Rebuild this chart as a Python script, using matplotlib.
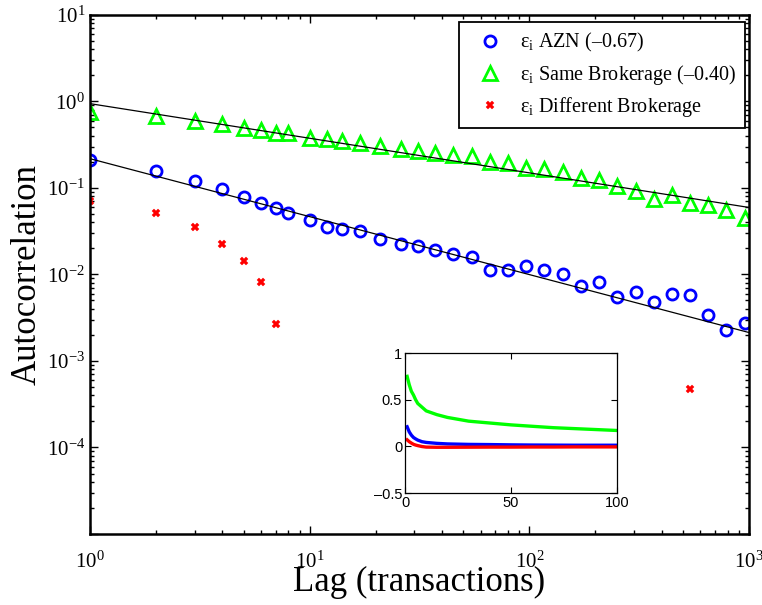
import numpy as np
import matplotlib
matplotlib.use("Agg")
import matplotlib.pyplot as plt
from matplotlib.ticker import LogLocator, NullFormatter, FuncFormatter

plt.rcParams['font.family'] = ['Liberation Serif', 'DejaVu Serif']
plt.rcParams['mathtext.fontset'] = 'custom'
plt.rcParams['mathtext.rm'] = 'Liberation Serif'
plt.rcParams['mathtext.it'] = 'Liberation Serif:italic'
plt.rcParams['mathtext.default'] = 'regular'

# ---- data ----
lags = [1, 2, 3, 4, 5, 6, 7, 8, 10, 12, 14, 17, 21, 26, 31, 37, 45, 55, 66, 80,
        97, 117, 142, 171, 207, 251, 305, 368, 446, 538, 650, 787, 955]

azn = [0.209, 0.156, 0.119, 0.0965, 0.0786, 0.0677, 0.0582, 0.0513, 0.0423, 0.0358,
       0.0336, 0.0318, 0.0255, 0.0222, 0.0212, 0.0192, 0.01725, 0.0159, 0.0114, 0.0114,
       0.01267, 0.01127, 0.01005, 0.00731, 0.00828, 0.00556, 0.00634, 0.00481, 0.0059,
       0.00586, 0.00344, 0.00227, 0.00275]

same_brok = [0.754, 0.673, 0.594, 0.554, 0.498, 0.464, 0.436, 0.431, 0.382, 0.368,
             0.349, 0.334, 0.305, 0.285, 0.269, 0.253, 0.243, 0.232, 0.1995, 0.194,
             0.170, 0.1674, 0.153, 0.130, 0.1226, 0.1045, 0.0915, 0.0753, 0.0822,
             0.0677, 0.063, 0.0552, 0.045]

nan = np.nan
diff_brok = [0.0707, 0.0514, 0.0354, 0.0223, 0.01433, 0.00828, 0.00266, nan, nan, nan,
             nan, nan, nan, nan, nan, nan, nan, nan, nan, nan,
             nan, nan, nan, nan, nan, nan, nan, nan, nan,
             0.000468, nan, nan, nan]

# power-law fits: amplitude, exponent
fit_azn = (0.218, -0.67)
fit_same = (0.943, -0.40)

# inset (linear scale, lags 1..100)
inset_lags = [1, 2, 3, 4, 5, 6, 8, 10, 15, 20, 30, 40, 50, 60, 70, 80, 90, 100]
inset_same = [0.75, 0.66, 0.59, 0.55, 0.50, 0.46, 0.42, 0.38, 0.34, 0.31, 0.27, 0.25,
              0.23, 0.215, 0.20, 0.19, 0.18, 0.17]
inset_azn = [0.21, 0.155, 0.12, 0.095, 0.08, 0.067, 0.05, 0.042, 0.032, 0.026, 0.021,
             0.019, 0.016, 0.014, 0.013, 0.012, 0.012, 0.012]
inset_diff = [0.07, 0.05, 0.035, 0.022, 0.014, 0.008, -0.002, -0.008, -0.010, -0.010,
              -0.009, -0.008, -0.008, -0.007, -0.007, -0.006, -0.006, -0.006]

labels = [r'ε$_i$ AZN (–0.67)', r'ε$_i$ Same Brokerage (–0.40)', r'ε$_i$ Different Brokerage']

BLUE = (0, 0, 1)
GREEN = (0, 1, 0)
RED = (1, 0, 0)

fig = plt.figure(figsize=(7.62, 6.05), dpi=100)
ax = fig.add_axes([0.1181, 0.1174, 0.8649, 0.8579])

x = np.array(lags, dtype=float)
ax.plot(x, azn, 'o', ls='none', mfc='none', mec=BLUE, mew=2.0, ms=8, label=labels[0])
ax.plot(x, same_brok, '^', ls='none', mfc='none', mec=GREEN, mew=2.0, ms=9.5, label=labels[1])
ax.plot(x, diff_brok, 'X', ls='none', mfc=RED, mec=RED, mew=0.3, ms=6.0, label=labels[2])

xf = np.array([1.0, 1000.0])
ax.plot(xf, fit_azn[0] * xf ** fit_azn[1], color='k', lw=0.9)
ax.plot(xf, fit_same[0] * xf ** fit_same[1], color='k', lw=0.9)

ax.set_xscale('log')
ax.set_yscale('log')
ax.set_xlim(1, 1000)
ax.set_ylim(1e-5, 10)
ax.xaxis.set_major_locator(LogLocator(base=10, numticks=10))
ax.yaxis.set_major_locator(LogLocator(base=10, numticks=10))
ax.xaxis.set_minor_locator(LogLocator(base=10, subs=np.arange(2, 10), numticks=20))
ax.yaxis.set_minor_locator(LogLocator(base=10, subs=np.arange(2, 10), numticks=20))
ax.xaxis.set_minor_formatter(NullFormatter())
ax.yaxis.set_minor_formatter(NullFormatter())


def yfmt(v, pos):
    e = int(round(np.log10(v)))
    if e <= -5:
        return ''
    return r'$10^{%d}$' % e


ax.yaxis.set_major_formatter(FuncFormatter(yfmt))
ax.tick_params(which='both', direction='in', top=True, right=True, labelsize=15, width=1.0)
ax.tick_params(which='major', length=6)
ax.tick_params(which='minor', length=3)
ax.tick_params(axis='x', pad=13)
for s in ax.spines.values():
    s.set_linewidth(1.8)

ax.set_xlabel('Lag (transactions)', fontsize=25, labelpad=-5)
ax.set_ylabel('Autocorrelation', fontsize=25, labelpad=2)

leg = ax.legend(loc='upper right', bbox_to_anchor=(0.9945, 0.986), fontsize=14.5,
                frameon=True, fancybox=False, framealpha=1, edgecolor='k',
                numpoints=1, handletextpad=0.4, borderpad=0.45, labelspacing=0.42,
                handlelength=2.2, borderaxespad=0)
leg.get_frame().set_linewidth(1.3)

# ---- inset ----
axi = fig.add_axes([0.5315, 0.1851, 0.2782, 0.2314])
axi.plot(inset_lags, inset_same, color=GREEN, lw=2.4)
axi.plot(inset_lags, inset_azn, color=BLUE, lw=2.4)
axi.plot(inset_lags, inset_diff, color=RED, lw=2.4)
axi.set_xlim(0, 100)
axi.set_ylim(-0.5, 1)
axi.set_xticks([0, 50, 100])
axi.set_yticks([-0.5, 0, 0.5, 1])
axi.set_xticklabels(['0', '50', '100'])
axi.set_yticklabels(['–0.5', '0', '0.5', '1'])
axi.tick_params(direction='in', top=True, right=True, length=4, labelsize=10.5, pad=2)
for lab in axi.get_xticklabels() + axi.get_yticklabels():
    lab.set_family(['Liberation Sans', 'DejaVu Sans'])
for s in axi.spines.values():
    s.set_linewidth(0.9)

fig.savefig('out.png', dpi=100)
